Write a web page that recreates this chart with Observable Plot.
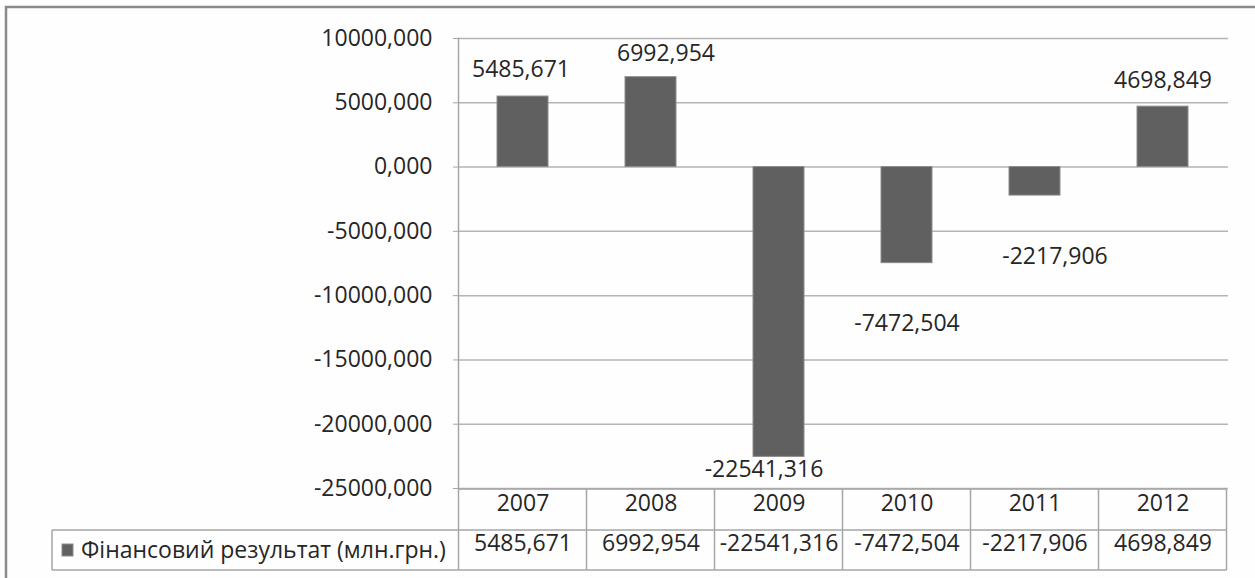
<!DOCTYPE html>
<html><head><meta charset="utf-8">
<script src="https://cdn.jsdelivr.net/npm/d3@7"></script>
<script src="https://cdn.jsdelivr.net/npm/@observablehq/plot@0.6"></script>
<style>
html,body{margin:0;padding:0;background:#fefefe;}
#chart{position:relative;width:1255px;height:578px;overflow:hidden;}
</style></head><body><div id="chart"></div>
<script>
const years = ["2007", "2008", "2009", "2010", "2011", "2012"];
const values = [5485.671, 6992.954, -22541.316, -7472.504, -2217.906, 4698.849];
const seriesName = "Фінансовий результат (млн.грн.)";
const yTicks = [10000, 5000, 0, -5000, -10000, -15000, -20000, -25000];

(function () {
const fmt = d => d.toFixed(3).replace(".", ",");
const data = years.map((year, i) => ({year, value: values[i]}));

// manual label nudges (dx, dy) as placed in the original chart
const nudge = {"2007": [-2, -27], "2008": [15, -24], "2009": [-15, 13], "2010": [0, 60], "2011": [20, 61], "2012": [0, -26]};
const FONT = "'Open Sans', sans-serif";
const TEXT = "#262626";

const chart = Plot.plot({
  width: 1255, height: 578,
  marginTop: 38, marginBottom: 90, marginLeft: 458, marginRight: 27,
  style: {fontFamily: FONT, fontSize: "23px", color: TEXT, background: "#fefefe", overflow: "visible"},
  x: {domain: years, paddingInner: 0.6, paddingOuter: 0.3, axis: null},
  y: {domain: [-25000, 10000], axis: null},
  marks: [
    Plot.ruleY(yTicks, {stroke: "#b4b4b4", strokeWidth: 1.5}),
    Plot.frame({anchor: "left", stroke: "#a6a6a6", strokeWidth: 1.5}),
    Plot.axisY(yTicks, {tickFormat: fmt, tickSize: 5, tickPadding: 21, stroke: "#a6a6a6", fill: TEXT, label: null, fontSize: 23}),
    Plot.barY(data, {x: "year", y: "value", fill: "#606060", stroke: "#8c8c8c", strokeWidth: 1}),
    ...data.map(d => Plot.text([d], {
      x: "year", y: "value", text: r => fmt(r.value),
      dx: nudge[d.year][0], dy: nudge[d.year][1], fill: TEXT, fontSize: 23
    })),
    Plot.text(data, {x: "year", text: "year", frameAnchor: "bottom", dy: 22, fill: TEXT, fontSize: 23}),
    Plot.text(data, {x: "year", text: d => fmt(d.value), frameAnchor: "bottom", dy: 62, fill: TEXT, fontSize: 23})
  ]
});

document.getElementById("chart").appendChild(chart);

// data table grid and legend key, positioned from the plot's own scales
const xs = chart.scale("x"), ys = chart.scale("y");
const svg = d3.select(chart);
const rowTop = ys.apply(-25000) + 1;
const rowMid = rowTop + 41;
const rowBot = rowTop + 81;
const colLeft = xs.apply(years[0]) + xs.bandwidth / 2 - xs.step / 2;
const colRight = xs.apply(years[years.length - 1]) + xs.bandwidth / 2 + xs.step / 2;
const g = svg.append("g").attr("stroke", "#a6a6a6").attr("stroke-width", 1.5).attr("fill", "none");
g.append("line").attr("x1", colLeft).attr("x2", colRight).attr("y1", rowTop).attr("y2", rowTop);
g.append("line").attr("x1", 52).attr("x2", colRight).attr("y1", rowMid).attr("y2", rowMid);
g.append("line").attr("x1", 52).attr("x2", colRight).attr("y1", rowBot).attr("y2", rowBot);
g.append("line").attr("x1", 52).attr("x2", 52).attr("y1", rowMid).attr("y2", rowBot);
years.forEach(y => {
  const xl = xs.apply(y) + xs.bandwidth / 2 - xs.step / 2;
  g.append("line").attr("x1", xl).attr("x2", xl).attr("y1", rowTop).attr("y2", rowBot);
});
g.append("line").attr("x1", colRight).attr("x2", colRight).attr("y1", rowTop).attr("y2", rowBot);

// legend key inside the table
svg.append("rect").attr("x", 62).attr("y", (rowMid + rowBot) / 2 - 6).attr("width", 11).attr("height", 12)
  .attr("fill", "#606060").attr("stroke", "#8c8c8c");
svg.append("text").attr("x", 81).attr("y", (rowMid + rowBot) / 2).attr("dy", "0.35em")
  .attr("text-anchor", "start")
  .attr("fill", TEXT).attr("font-size", 23).attr("font-family", FONT).text(seriesName);

// outer chart-area border
svg.append("rect").attr("x", 6).attr("y", 7).attr("width", 1300).attr("height", 700)
  .attr("fill", "none").attr("stroke", "#8a8a8a").attr("stroke-width", 2.5);
})();
</script></body></html>
